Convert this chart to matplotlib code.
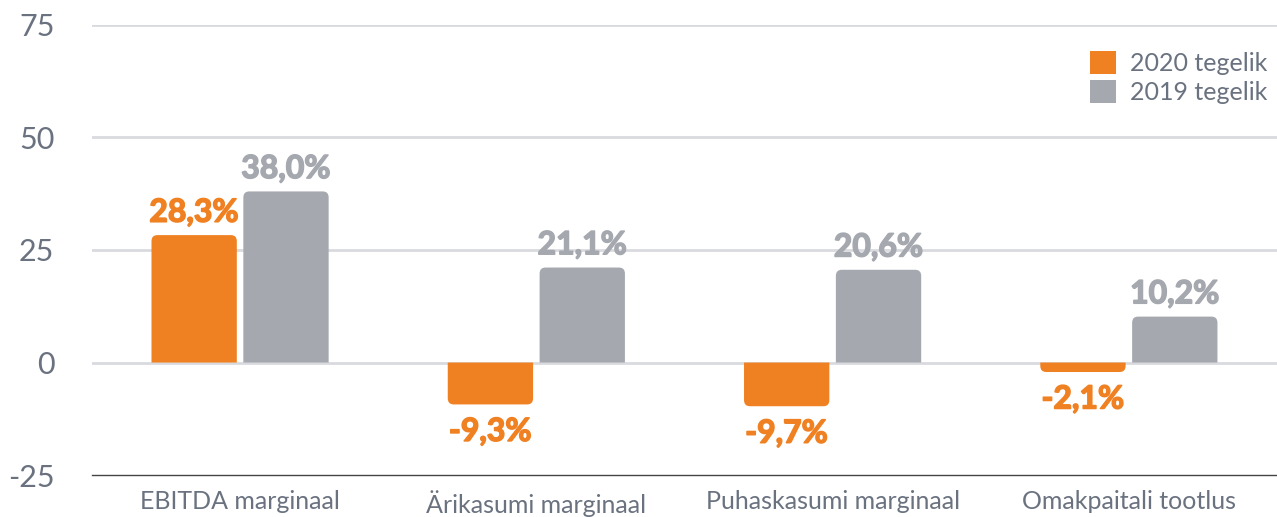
import matplotlib
matplotlib.use("Agg")
import matplotlib.pyplot as plt
import matplotlib.patheffects as pe
from matplotlib.patches import Rectangle, PathPatch
from matplotlib.path import Path

categories = ["EBITDA marginaal", "Ärikasumi marginaal", "Puhaskasumi marginaal", "Omakpaitali tootlus"]
series_names = ["2020 tegelik", "2019 tegelik"]
values_2020 = [28.3, -9.3, -9.7, -2.1]
values_2019 = [38.0, 21.1, 20.6, 10.2]
yticks = [-25, 0, 25, 50, 75]

ORANGE = "#F08122"
GRAY = "#A5A9AF"
TICK_COLOR = "#6A7280"
GRID_COLOR = "#D9DADF"

plt.rcParams['font.family'] = ['Lato', 'DejaVu Sans']

fig = plt.figure(figsize=(12.77, 5.17), dpi=100)
ax = fig.add_axes([0.072, 0.081, 0.928, 0.871])

width = 0.288
offset = 0.155
ax.set_xlim(-0.5, 3.5)
ax.set_ylim(-25, 75)

# rounding radius in data units (approx 6 px)
rx = 0.02
ry = 1.35

def rounded_bar(x, val, color):
    l = x - width / 2
    r_ = x + width / 2
    s = 1 if val >= 0 else -1
    h = abs(val)
    k = min(1.0, h / ry * 0.9)
    ddx = rx * k
    ddy = ry * k * s
    verts = [
        (l, 0), (l, val - ddy), (l, val), (l + ddx, val),
        (r_ - ddx, val), (r_, val), (r_, val - ddy), (r_, 0), (l, 0)
    ]
    codes = [Path.MOVETO, Path.LINETO, Path.CURVE3, Path.CURVE3,
             Path.LINETO, Path.CURVE3, Path.CURVE3, Path.LINETO, Path.CLOSEPOLY]
    ax.add_patch(PathPatch(Path(verts, codes), facecolor=color, edgecolor="none", zorder=3))

def fmt(v):
    return f"{v:.1f}".replace(".", ",") + "%"

for i, (a, b) in enumerate(zip(values_2020, values_2019)):
    for x, v, c in ((i - offset, a, ORANGE), (i + offset, b, GRAY)):
        rounded_bar(x, v, c)
        effects = [pe.withStroke(linewidth=1.1, foreground=c)]
        if v >= 0:
            ax.annotate(fmt(v), (x, v), xytext=(0, 6), textcoords="offset points",
                        ha="center", va="bottom", color=c, fontsize=23,
                        fontweight="bold", zorder=4, path_effects=effects)
        else:
            ax.annotate(fmt(v), (x, v), xytext=(0, -9), textcoords="offset points",
                        ha="center", va="top", color=c, fontsize=23,
                        fontweight="bold", zorder=4, path_effects=effects)

# grid
for t in yticks[1:]:
    ax.axhline(t, color=GRID_COLOR, lw=2, zorder=1)
ax.axhline(-25, color="#444444", lw=1.0, zorder=2, clip_on=False)

for sp in ax.spines.values():
    sp.set_visible(False)

ax.set_yticks(yticks)
ax.set_yticklabels([str(t) for t in yticks])
ax.set_xticks(range(len(categories)))
ax.set_xticklabels(categories)
ax.tick_params(axis="y", length=0, pad=27, labelsize=22, labelcolor=TICK_COLOR)
ax.tick_params(axis="x", length=0, pad=11, labelsize=18, labelcolor=TICK_COLOR)

handles = [Rectangle((0, 0), 1, 1, facecolor=ORANGE), Rectangle((0, 0), 1, 1, facecolor=GRAY)]
leg = ax.legend(handles, series_names, loc="upper right", bbox_to_anchor=(1.0, 0.965),
                frameon=False, fontsize=18, handlelength=1.05, handleheight=1.05,
                handletextpad=0.55, labelspacing=0.2, borderaxespad=0.0)
for t in leg.get_texts():
    t.set_color(TICK_COLOR)

fig.savefig("out.png", dpi=100)
